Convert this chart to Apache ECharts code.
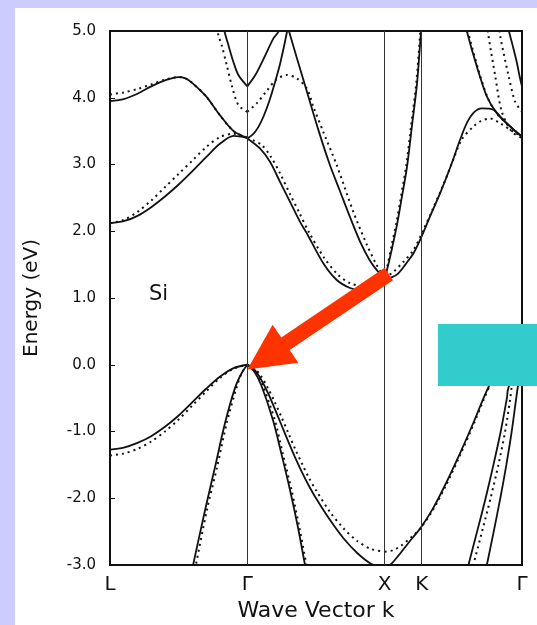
<!DOCTYPE html>
<html lang="en">
<head>
<meta charset="UTF-8">
<title>Si band structure</title>
<script src="https://cdn.jsdelivr.net/npm/echarts@6/dist/echarts.min.js"></script>
<style>
    html, body { margin: 0; padding: 0; background: #ccccff; overflow: hidden; }
    #main { position: absolute; left: 15px; top: 8px; width: 522px; height: 617px; background: #fff; }
</style>
</head>
<body>
<div id="main"></div>
<script>
    // k path: L=0, Γ=1, X=2, K=2.27, Γ=3   energies in eV
    var kTicks = [0, 1, 2, 2.27, 3];
    var kNames = ['L', 'Γ', 'X', 'K', 'Γ'];

    // ---- L -> Γ ----
    var lgVal1 = [[0,-1.27],[0.1,-1.24],[0.2,-1.17],[0.3,-1.07],[0.4,-0.93],[0.5,-0.76],[0.6,-0.56],[0.7,-0.36],[0.8,-0.18],[0.9,-0.05],[1,0]];
    var lgVal1Dot = [[0,-1.36],[0.1,-1.33],[0.2,-1.26],[0.3,-1.15],[0.4,-1.0],[0.5,-0.82],[0.6,-0.61],[0.7,-0.4],[0.8,-0.2],[0.9,-0.06],[1,0]];
    var lgVal2 = [[1,0],[0.96,-0.12],[0.91,-0.35],[0.838,-0.87],[0.765,-1.53],[0.692,-2.18],[0.605,-3.0],[0.595,-3.1]];
    var lgVal2Dot = [[1,0],[0.96,-0.12],[0.92,-0.35],[0.85,-0.87],[0.78,-1.53],[0.705,-2.18],[0.625,-3.0],[0.615,-3.1]];
    var lgCond1 = [[0,2.12],[0.1,2.15],[0.2,2.23],[0.3,2.36],[0.4,2.52],[0.5,2.7],[0.6,2.9],[0.7,3.11],[0.8,3.31],[0.9,3.43],[1,3.4]];
    var lgCond1Dot = [[0,2.12],[0.1,2.17],[0.2,2.29],[0.3,2.46],[0.4,2.66],[0.5,2.86],[0.6,3.06],[0.7,3.26],[0.8,3.41],[0.9,3.46],[1,3.4]];
    var lgCond2 = [[0,3.95],[0.1,3.98],[0.2,4.06],[0.3,4.17],[0.4,4.26],[0.5,4.31],[0.55,4.29],[0.6,4.22],[0.7,4.02],[0.8,3.74],[0.9,3.5],[1,3.4]];
    var lgCond2Dot = [[0,4.05],[0.1,4.08],[0.2,4.13],[0.3,4.2],[0.4,4.27],[0.5,4.31],[0.55,4.29],[0.6,4.22],[0.7,4.02],[0.8,3.74],[0.9,3.5],[1,3.4]];
    var lgCond3 = [[1,4.17],[0.935,4.34],[0.898,4.54],[0.862,4.79],[0.833,5.0],[0.828,5.1]];
    var lgCond3Dot = [[1,3.79],[0.935,3.89],[0.886,4.19],[0.85,4.49],[0.813,4.79],[0.789,4.94],[0.782,5.1]];

    // ---- Γ -> X ----
    var gxVal1 = [[1,0],[1.05,-0.07],[1.1,-0.22],[1.15,-0.42],[1.2,-0.66],[1.25,-0.91],[1.3,-1.16],[1.35,-1.4],[1.4,-1.62],[1.45,-1.82],[1.5,-2.0],[1.6,-2.32],[1.7,-2.6],[1.8,-2.82],[1.9,-2.98],[2,-3.05]];
    var gxVal1Dot = [[1,0],[1.05,-0.05],[1.1,-0.17],[1.15,-0.35],[1.2,-0.56],[1.25,-0.79],[1.3,-1.03],[1.35,-1.27],[1.4,-1.49],[1.45,-1.7],[1.5,-1.88],[1.6,-2.2],[1.7,-2.45],[1.8,-2.64],[1.9,-2.76],[2,-2.8]];
    var gxVal2 = [[1,0],[1.05,-0.1],[1.1,-0.3],[1.187,-0.83],[1.25,-1.35],[1.311,-1.88],[1.37,-2.45],[1.42,-3.0],[1.43,-3.1]];
    var gxVal2Dot = [[1,0],[1.06,-0.1],[1.11,-0.3],[1.2,-0.83],[1.26,-1.35],[1.322,-1.88],[1.38,-2.45],[1.43,-3.0],[1.44,-3.1]];
    var gxCond1 = [[1,3.39],[1.092,3.24],[1.165,3.04],[1.238,2.74],[1.311,2.44],[1.384,2.14],[1.433,1.97],[1.553,1.52],[1.651,1.27],[1.748,1.15],[1.82,1.12],[1.908,1.17],[2,1.3]];
    var gxCond1Dot = [[1,3.4],[1.1,3.3],[1.17,3.12],[1.24,2.86],[1.31,2.56],[1.38,2.27],[1.45,1.98],[1.56,1.6],[1.66,1.35],[1.75,1.22],[1.85,1.18],[1.93,1.22],[2,1.3]];
    var gxCond2 = [[1.296,5.05],[1.36,4.6],[1.44,4.05],[1.52,3.5],[1.6,3.0],[1.675,2.6],[1.75,2.2],[1.82,1.85],[1.89,1.57],[1.95,1.4],[2,1.3]];
    var gxCond2Dot = [[1,3.79],[1.07,3.92],[1.14,4.1],[1.21,4.27],[1.287,4.34],[1.36,4.29],[1.433,4.14],[1.48,3.87],[1.553,3.49],[1.651,2.99],[1.772,2.29],[1.87,1.8],[1.94,1.5],[2,1.3]];
    var gxCond3 = [[1,4.17],[1.058,4.34],[1.12,4.59],[1.19,4.89],[1.23,5.0],[1.235,5.1]];
    var gxCond4 = [[1,3.39],[1.04,3.45],[1.08,3.56],[1.12,3.73],[1.16,3.95],[1.2,4.22],[1.24,4.52],[1.29,5.0],[1.295,5.1]];

    // ---- X -> K -> Γ ----
    var xkCond1 = [[2,1.3],[2.024,1.48],[2.054,1.75],[2.09,2.1],[2.12,2.45],[2.163,2.97],[2.2,3.6],[2.236,4.22],[2.265,5.0],[2.27,5.1]];
    var xkCond1Dot = [[2,1.3],[2.02,1.48],[2.05,1.78],[2.085,2.12],[2.115,2.47],[2.158,3.0],[2.195,3.62],[2.231,4.24],[2.26,5.0],[2.265,5.1]];
    var xgCond2 = [[2,1.3],[2.05,1.31],[2.1,1.37],[2.15,1.5],[2.21,1.67],[2.258,1.87],[2.33,2.22],[2.404,2.57],[2.48,2.97],[2.549,3.37],[2.598,3.62],[2.65,3.78],[2.707,3.84],[2.792,3.82],[2.85,3.7],[2.889,3.62],[2.95,3.5],[3,3.42]];
    var xgCond2Dot = [[2,1.3],[2.063,1.39],[2.136,1.54],[2.21,1.72],[2.282,2.02],[2.35,2.33],[2.42,2.66],[2.49,3.02],[2.56,3.37],[2.646,3.57],[2.7,3.65],[2.768,3.69],[2.84,3.62],[2.937,3.49],[3,3.42]];
    var kgCond3 = [[2.592,5.1],[2.598,5.0],[2.671,4.47],[2.744,4.02],[2.816,3.77],[2.913,3.57],[3,3.42]];
    var kgCond3Dot = [[2.6,5.1],[2.606,5.0],[2.678,4.45],[2.75,4.0],[2.822,3.75],[2.918,3.56],[3,3.42]];
    var kgCond4 = [[2.9,5.1],[2.905,5.0],[2.93,4.8],[2.96,4.55],[2.985,4.3],[3,4.17]];
    var kgCond5Dot = [[2.748,5.1],[2.755,4.94],[2.804,4.34],[2.853,3.79],[2.926,3.49],[3,3.4]];
    var kgCond6Dot = [[2.835,5.1],[2.84,4.94],[2.901,4.34],[2.95,3.94],[3,3.79]];
    var xgVal1 = [[2,-3.05],[2.05,-2.98],[2.1,-2.86],[2.15,-2.73],[2.2,-2.6],[2.26,-2.45],[2.35,-2.16],[2.45,-1.76],[2.55,-1.32],[2.65,-0.85],[2.72,-0.5],[2.77,-0.28],[2.83,-0.12],[2.9,-0.04],[3,0]];
    var xgVal1Dot = [[2,-2.8],[2.06,-2.78],[2.12,-2.71],[2.19,-2.59],[2.26,-2.45],[2.35,-2.18],[2.45,-1.79],[2.55,-1.35],[2.65,-0.88],[2.72,-0.53],[2.77,-0.3],[2.83,-0.13],[2.9,-0.04],[3,0]];
    var kgVal2 = [[2.6,-3.1],[2.61,-3.0],[2.673,-2.5],[2.735,-2.0],[2.792,-1.5],[2.845,-1.0],[2.89,-0.5],[2.903,-0.33],[3,0]];
    var kgVal2Dot = [[2.636,-3.1],[2.646,-3.0],[2.709,-2.5],[2.771,-2.0],[2.828,-1.5],[2.877,-1.0],[2.915,-0.5],[2.927,-0.33],[3,0]];
    var kgVal3 = [[2.735,-3.1],[2.744,-3.0],[2.794,-2.5],[2.842,-2.0],[2.886,-1.5],[2.925,-1.0],[2.958,-0.5],[2.97,-0.33],[3,0]];

    var solidLines = [lgVal1, lgVal2, lgCond1, lgCond2, lgCond3,
        gxVal1, gxVal2, gxCond1, gxCond2, gxCond3, gxCond4,
        xkCond1, xgCond2, kgCond3, kgCond4, xgVal1, kgVal2, kgVal3];
    var dottedLines = [lgVal1Dot, lgVal2Dot, lgCond1Dot, lgCond2Dot, lgCond3Dot,
        gxVal1Dot, gxVal2Dot, gxCond1Dot, gxCond2Dot,
        xkCond1Dot, xgCond2Dot, kgCond3Dot, kgCond5Dot, kgCond6Dot, xgVal1Dot, kgVal2Dot];

    var font = 'DejaVu Sans, Liberation Sans, Arial, sans-serif';
    var myChart = echarts.init(document.getElementById('main'));

    var series = [];
    solidLines.forEach(function (d) {
        series.push({
            type: 'line', data: d, showSymbol: false, smooth: 0.3, silent: true,
            lineStyle: {color: '#111', width: 1.8}
        });
    });
    dottedLines.forEach(function (d) {
        series.push({
            type: 'line', data: d, showSymbol: false, smooth: 0.3, silent: true,
            lineStyle: {color: '#111', width: 2, type: [2, 4]}
        });
    });
    // vertical symmetry-point lines
    series[0].markLine = {
        silent: true,
        symbol: 'none',
        label: {show: false},
        lineStyle: {color: '#333', width: 1, type: 'solid'},
        data: [{xAxis: kTicks[1]}, {xAxis: kTicks[2]}, {xAxis: kTicks[3]}]
    };

    var option = {
        animation: false,
        grid: {
            left: 95, right: 15, top: 23, bottom: 60, outerBoundsMode: 'none',
            show: true, borderColor: '#111', borderWidth: 2
        },
        xAxis: {
            type: 'value', min: 0, max: 3,
            name: 'Wave Vector k', nameLocation: 'middle', nameGap: 32,
            nameTextStyle: {fontFamily: font, fontSize: 22, color: '#111'},
            axisLine: {onZero: false, lineStyle: {color: '#111', width: 2}},
            axisTick: {show: false},
            splitLine: {show: false},
            axisLabel: {
                customValues: kTicks, margin: 10,
                fontFamily: font, fontSize: 20, color: '#111',
                formatter: function (v) {
                    var i = kTicks.indexOf(v);
                    return i >= 0 ? kNames[i] : '';
                }
            }
        },
        yAxis: {
            type: 'value', min: -3, max: 5, interval: 1,
            name: 'Energy (eV)', nameLocation: 'middle', nameGap: 68,
            nameTextStyle: {fontFamily: font, fontSize: 20, color: '#111'},
            axisLine: {lineStyle: {color: '#111', width: 2}},
            axisTick: {inside: true, length: 5, lineStyle: {color: '#111'}},
            splitLine: {show: false},
            axisLabel: {
                margin: 14, fontFamily: font, fontSize: 15, color: '#111',
                formatter: function (v) { return v.toFixed(1); }
            }
        },
        series: series
    };
    myChart.setOption(option);

    // annotations: arrow from X conduction minimum to Γ valence top, label, box
    var tip = myChart.convertToPixel({gridIndex: 0}, [1.0, -0.07]);
    var tail = myChart.convertToPixel({gridIndex: 0}, [2.03, 1.36]);
    var dx = tip[0] - tail[0], dy = tip[1] - tail[1];
    var len = Math.sqrt(dx * dx + dy * dy);
    var ux = dx / len, uy = dy / len, nx = -uy, ny = ux;
    var headLen = 46, headW = 23, shaftW = 7.5;
    var bx = tip[0] - ux * headLen, by = tip[1] - uy * headLen;
    var pts = [
        [tail[0] + nx * shaftW, tail[1] + ny * shaftW],
        [bx + nx * shaftW, by + ny * shaftW],
        [bx + nx * headW, by + ny * headW],
        tip,
        [bx - nx * headW, by - ny * headW],
        [bx - nx * shaftW, by - ny * shaftW],
        [tail[0] - nx * shaftW, tail[1] - ny * shaftW]
    ];

    myChart.setOption({
        graphic: [
            {type: 'polygon', shape: {points: pts}, style: {fill: '#ff3300'}, z: 100, silent: true},
            {type: 'text', left: 134, top: 276, style: {text: 'Si', font: '21px ' + font, fill: '#111'}, z: 100},
            {type: 'rect', shape: {x: 423, y: 316, width: 99, height: 62}, style: {fill: '#33cccc'}, z: 101, silent: true}
        ]
    });
</script>
</body>
</html>
